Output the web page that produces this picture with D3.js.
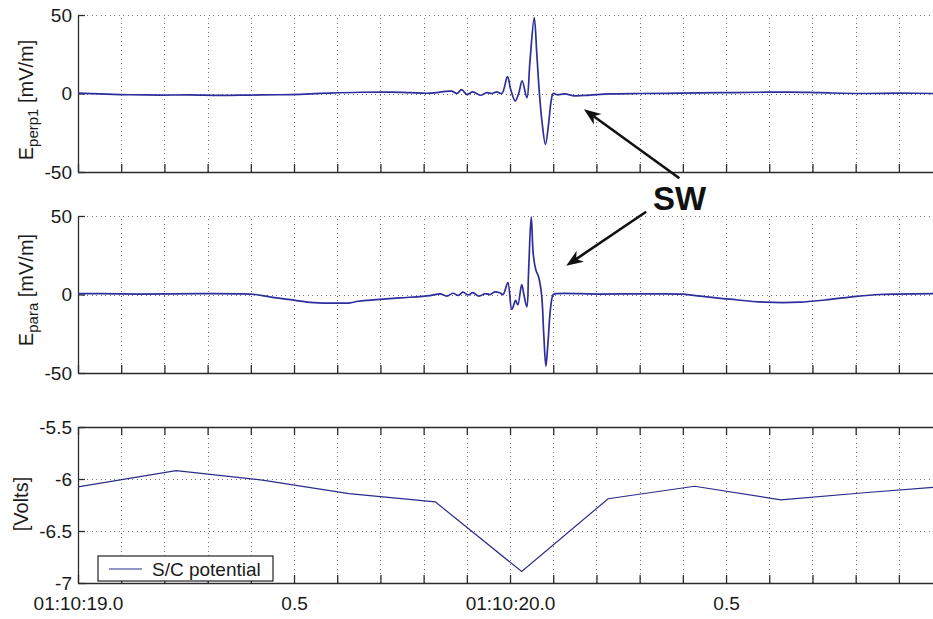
<!DOCTYPE html>
<html>
<head>
<meta charset="utf-8">
<script src="https://cdn.jsdelivr.net/npm/d3@7/dist/d3.min.js"></script>
<style>
  body { margin: 0; background: #fff; }
  svg { font-family: "Liberation Sans", Arial, Helvetica, sans-serif; }
  .grid line { stroke: #777; stroke-dasharray: 1, 3.5; shape-rendering: crispEdges; }
  .grid path { display: none; }
  .axis path, .axis line { stroke: #2b2b2b; stroke-width: 1.3; }
  .axis text { font-size: 19px; fill: #1a1a1a; }
</style>
</head>
<body>
<svg id="canvas" width="933" height="619"></svg>
<script>
// seconds after 01:10:19.0
const perpTime = [0, 0.051, 0.120, 0.190, 0.259, 0.329, 0.398, 0.468, 0.514, 0.583, 0.653, 0.722, 0.769, 0.815,
  0.865, 0.877, 0.888, 0.900, 0.914, 0.931, 0.946, 0.958, 0.969, 0.981, 0.994, 1.002, 1.012, 1.020, 1.028, 1.039,
  1.046, 1.056, 1.062, 1.068, 1.074, 1.082, 1.089, 1.095, 1.100, 1.109, 1.127, 1.150, 1.185, 1.231, 1.301, 1.394,
  1.486, 1.579, 1.648, 1.718, 1.810, 1.903, 1.979];
const perpValues = [0.3, -0.3, -0.8, -1.0, -0.9, -1.2, -1.0, -0.8, -0.5, 0.3, 0.8, 0.9, 0.5, 0.2,
  1.5, 0.0, 2.5, -0.6, 1.0, -1.1, 0.5, 0.0, 1.0, 0.0, 10.7, 2.0, -4.8, 0.0, 8.0, -2.7,
  20, 48.3, 25, 0, -18, -32.4, -20, -5, 0, -0.8, -0.3, -1.5, -1.0, -0.3, 0, 0.2,
  0.5, 0.8, 0.9, 0.5, 0, 0.2, 0];

const paraTime = [0, 0.051, 0.144, 0.282, 0.375, 0.410, 0.444, 0.491, 0.537, 0.583, 0.630, 0.648, 0.676, 0.745, 0.815,
  0.838, 0.854, 0.868, 0.880, 0.891, 0.903, 0.914, 0.928, 0.942, 0.954, 0.965, 0.977, 0.984,
  0.995, 1.004, 1.013, 1.018, 1.027, 1.032, 1.039, 1.043, 1.049, 1.054, 1.060, 1.066, 1.073, 1.078, 1.083,
  1.088, 1.094, 1.100, 1.106, 1.208, 1.324, 1.400, 1.440, 1.509, 1.590, 1.671, 1.729, 1.792, 1.856, 1.979];
const paraValues = [0.5, 0.5, 0.3, 0.5, 0.4, 0.0, -1.5, -3.3, -5.0, -5.5, -5.3, -4.3, -3.6, -2.2, -0.7,
  0.4, -1.0, 0.8, -0.6, 1.5, -0.3, 1.2, -1.0, 0.5, 0.0, 1.7, 1.0, 0.0,
  7.6, -9.5, -3.8, -6.7, 6.3, 0, -7.8, 15, 49.5, 25, 15.5, 11.3, 0, -25, -45.6,
  -30, -8, 0, 0.5, 0.3, 0.4, 0.2, -1.0, -3.0, -4.9, -4.9, -3.5, -1.5, 0.0, 0.6];

const scTime = [0, 0.227, 0.427, 0.627, 0.827, 1.027, 1.227, 1.427, 1.627, 1.827, 1.979];
const scValues = [-6.075, -5.92, -6.01, -6.14, -6.22, -6.89, -6.19, -6.07, -6.20, -6.13, -6.08];

const xTickLabels = ["01:10:19.0", "0.5", "01:10:20.0", "0.5"];
const xLabelTimes = [0, 0.5, 1.0, 1.5];
const eTicks = [-50, 0, 50];
const vTicks = [-7, -6.5, -6, -5.5];

let svg = d3.select("#canvas");
const left = 78, right = 933;

var x = d3.scaleLinear() //time (s) to x-position
  .domain([0, 1.979])
  .range([left, right]);

const xTicks = d3.range(0, 20).map(i => i / 10); // every 0.1 s

// three stacked panels
const panels = [
  {top: 15, bottom: 172, domain: [-50, 50], ticks: eTicks, grid: [0, 50]},
  {top: 216, bottom: 373, domain: [-50, 50], ticks: eTicks, grid: [0, 50]},
  {top: 427, bottom: 583, domain: [-7, -5.5], ticks: vTicks, grid: [-6.5, -6]}
];
panels.forEach(p => {
  p.y = d3.scaleLinear().domain(p.domain).range([p.bottom, p.top]);
});

const labelFor = d => {
  const i = xLabelTimes.findIndex(v => Math.abs(v - d) < 1e-6);
  return i >= 0 ? xTickLabels[i] : "";
};

panels.forEach((p, k) => {
  const h = p.bottom - p.top;
  //vertical grid
  svg.append("g").attr("class", "grid")
    .attr("transform", "translate(0," + p.bottom + ")")
    .call(d3.axisBottom(x).tickValues(xTicks.slice(1)).tickSize(-h).tickFormat(""));
  //horizontal grid
  svg.append("g").attr("class", "grid")
    .attr("transform", "translate(" + left + ",0)")
    .call(d3.axisLeft(p.y).tickValues(p.grid).tickSize(-(right - left)).tickFormat(""));

  //bottom axis, labels only on the last panel
  svg.append("g").attr("class", "axis")
    .attr("transform", "translate(0," + p.bottom + ")")
    .call(d3.axisBottom(x).tickValues(xTicks).tickSizeInner(-8).tickSizeOuter(0)
      .tickPadding(14).tickFormat(k === 2 ? labelFor : ""));
  //top frame only on the last panel
  if (k === 2) {
    svg.append("g").attr("class", "axis")
      .attr("transform", "translate(0," + p.top + ")")
      .call(d3.axisTop(x).tickValues(xTicks).tickSizeInner(-8).tickSizeOuter(0).tickFormat(""));
  }
  //left axis
  svg.append("g").attr("class", "axis")
    .attr("transform", "translate(" + left + ",0)")
    .call(d3.axisLeft(p.y).tickValues(p.ticks).tickSizeInner(-7).tickSizeOuter(0)
      .tickPadding(6).tickFormat(d => String(d)));
});

svg.append("clipPath").attr("id", "clip")
  .append("rect").attr("x", left).attr("y", 0).attr("width", right - left).attr("height", 619);

//E field traces
const traces = [
  {t: perpTime, v: perpValues, p: panels[0]},
  {t: paraTime, v: paraValues, p: panels[1]}
];
traces.forEach(tr => {
  const pts = tr.t.map((t, i) => [t, tr.v[i]]);
  const line = d3.line()
    .x(d => x(d[0]))
    .y(d => tr.p.y(d[1]))
    .curve(d3.curveCatmullRom);
  svg.append("path")
    .attr("clip-path", "url(#clip)")
    .attr("d", line(pts))
    .attr("fill", "none")
    .attr("stroke", "#2d2d9c")
    .attr("stroke-width", 1.7);
});

//spacecraft potential
const scLine = d3.line()
  .x(d => x(d[0]))
  .y(d => panels[2].y(d[1]));
svg.append("path")
  .attr("clip-path", "url(#clip)")
  .attr("d", scLine(scTime.map((t, i) => [t, scValues[i]])))
  .attr("fill", "none")
  .attr("stroke", "#2b2b8c")
  .attr("stroke-width", 1.2);

//y labels
function ylabel(cy, main, sub, rest) {
  const t = svg.append("text")
    .attr("transform", "translate(33," + cy + ") rotate(-90)")
    .attr("text-anchor", "middle")
    .style("font-size", "20px")
    .attr("fill", "#1a1a1a");
  t.append("tspan").text(main);
  t.append("tspan").attr("dy", 5).style("font-size", "15px").text(sub);
  t.append("tspan").attr("dy", -5).text(rest);
}
ylabel(100, "E", "perp1", " [mV/m]");
ylabel(290, "E", "para", " [mV/m]");
svg.append("text")
  .attr("transform", "translate(28,504) rotate(-90)")
  .attr("text-anchor", "middle")
  .style("font-size", "20px")
  .attr("fill", "#1a1a1a")
  .text("[Volts]");

//legend
const legend = svg.append("g").attr("transform", "translate(98,556)");
legend.append("rect").attr("width", 175).attr("height", 25)
  .attr("fill", "#fff").attr("stroke", "#222").attr("stroke-width", 1.2);
legend.append("line").attr("x1", 11).attr("x2", 44).attr("y1", 13).attr("y2", 13)
  .attr("stroke", "#2b2b8c").attr("stroke-width", 1.2);
legend.append("text").attr("x", 54).attr("y", 20)
  .style("font-size", "19px").attr("fill", "#1a1a1a")
  .text("S/C potential");

//SW annotation with arrows
const y1 = panels[0].y, y2 = panels[1].y;
svg.append("text")
  .attr("x", x(1.331)).attr("y", y2(53.8))
  .style("font-size", "33px").style("font-weight", "bold")
  .attr("fill", "#111")
  .text("SW");

function arrow(x0, yA, x1, yB) {
  const ang = Math.atan2(yB - yA, x1 - x0);
  const L = 17, W = 6.5;
  const c = Math.cos(ang), s = Math.sin(ang);
  const bx = x1 - 12 * c, by = yB - 12 * s;
  svg.append("line")
    .attr("x1", x0).attr("y1", yA).attr("x2", bx).attr("y2", by)
    .attr("stroke", "#111").attr("stroke-width", 2.6);
  const pts = [
    [x1, yB],
    [x1 - L * c + W * s, yB - L * s - W * c],
    [bx, by],
    [x1 - L * c - W * s, yB - L * s + W * c]
  ];
  svg.append("path").attr("d", "M" + pts.join("L") + "Z").attr("fill", "#111");
}
arrow(x(1.392), y1(-54), x(1.171), y1(-10));
arrow(x(1.315), y2(52.7), x(1.130), y2(18.3));
</script>
</body>
</html>
